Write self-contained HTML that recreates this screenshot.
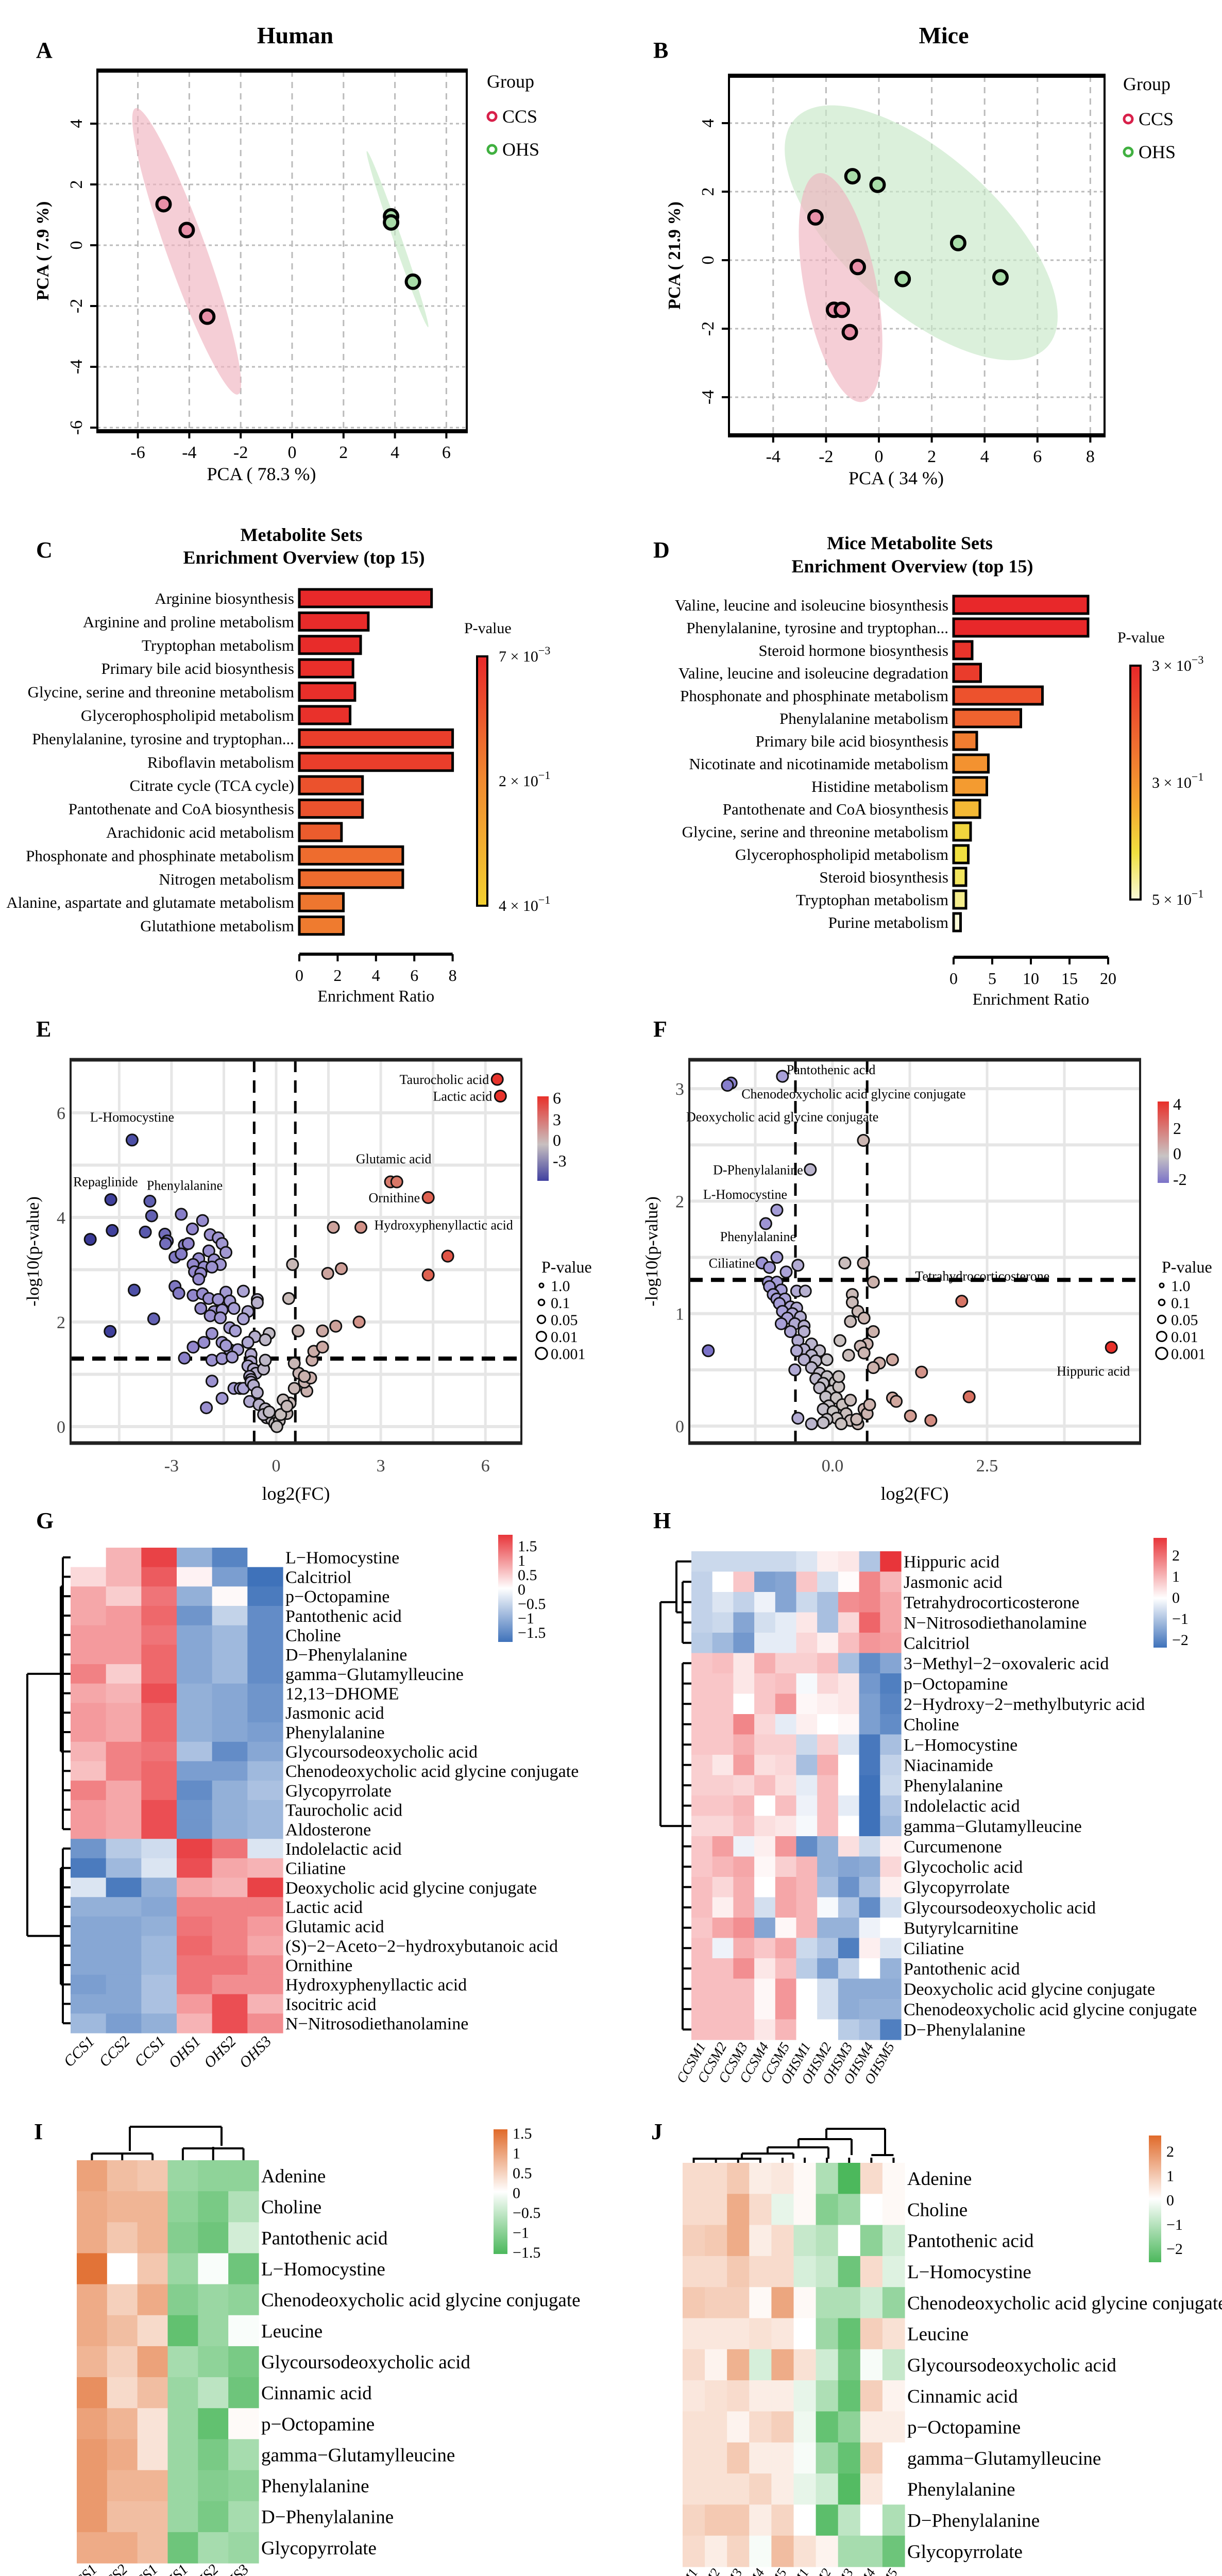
<!DOCTYPE html>
<html><head><meta charset="utf-8"><title>Metabolomics figure</title>
<style>
html,body{margin:0;padding:0;background:#fff;overflow:hidden;width:2372px;height:5092px;}
svg{display:block;font-family:"Liberation Serif","DejaVu Serif",serif;}
</style></head>
<body>
<svg id="fig" xmlns="http://www.w3.org/2000/svg" width="2372" height="5092" viewBox="0 0 2372 5092" overflow="hidden">
<defs>
<linearGradient id="gC" x1="0" y1="0" x2="0" y2="1"><stop offset="0" stop-color="#e8282a"/><stop offset="0.5" stop-color="#f08a30"/><stop offset="1" stop-color="#f2d030"/></linearGradient>
<linearGradient id="gD" x1="0" y1="0" x2="0" y2="1"><stop offset="0" stop-color="#e8282a"/><stop offset="0.35" stop-color="#f07030"/><stop offset="0.6" stop-color="#f5a830"/><stop offset="0.8" stop-color="#f0e040"/><stop offset="1" stop-color="#fafad8"/></linearGradient>
<linearGradient id="gE" x1="0" y1="0" x2="0" y2="1"><stop offset="0" stop-color="#e8302a"/><stop offset="0.57" stop-color="#c8c0c0"/><stop offset="1" stop-color="#4040a0"/></linearGradient>
<linearGradient id="gF" x1="0" y1="0" x2="0" y2="1"><stop offset="0" stop-color="#e8302a"/><stop offset="0.67" stop-color="#c8c4c4"/><stop offset="1" stop-color="#7b72c8"/></linearGradient>
<linearGradient id="gG" x1="0" y1="0" x2="0" y2="1"><stop offset="0" stop-color="#e8353a"/><stop offset="0.5" stop-color="#ffffff"/><stop offset="1" stop-color="#3f72ba"/></linearGradient>
<linearGradient id="gH" x1="0" y1="0" x2="0" y2="1"><stop offset="0" stop-color="#e8353a"/><stop offset="0.55" stop-color="#ffffff"/><stop offset="1" stop-color="#3f72ba"/></linearGradient>
<linearGradient id="gI" x1="0" y1="0" x2="0" y2="1"><stop offset="0" stop-color="#e06a2a"/><stop offset="0.5" stop-color="#ffffff"/><stop offset="1" stop-color="#4cb85c"/></linearGradient>
</defs>
<g font-size="44" font-weight="bold">
<text x="70" y="112">A</text>
<text x="1268" y="112">B</text>
<text x="70" y="1082">C</text>
<text x="1268" y="1082">D</text>
<text x="70" y="2012">E</text>
<text x="1268" y="2012">F</text>
<text x="70" y="2966">G</text>
<text x="1268" y="2966">H</text>
<text x="66" y="4152">I</text>
<text x="1264" y="4152">J</text>
</g>
<text x="573" y="84" font-size="46" font-weight="bold" text-anchor="middle">Human</text>
<text x="1832" y="84" font-size="46" font-weight="bold" text-anchor="middle">Mice</text>
<text x="585" y="1050" font-size="36" font-weight="bold" text-anchor="middle">Metabolite Sets</text>
<text x="590" y="1094" font-size="36" font-weight="bold" text-anchor="middle">Enrichment Overview (top 15)</text>
<text x="1766" y="1066" font-size="36" font-weight="bold" text-anchor="middle">Mice Metabolite Sets</text>
<text x="1771" y="1111" font-size="36" font-weight="bold" text-anchor="middle">Enrichment Overview (top 15)</text>
</svg>
<script>
const NS='http://www.w3.org/2000/svg';
const svg=document.getElementById('fig');
function mk(tag,attrs,parent){const e=document.createElementNS(NS,tag);for(const k in attrs)e.setAttribute(k,attrs[k]);(parent||svg).appendChild(e);return e;}
function tx(x,y,s,size,extra,parent){const e=mk('text',Object.assign({x:x,y:y,'font-size':size},extra||{}),parent);e.textContent=s;return e;}
function hex(c){return [parseInt(c.substr(1,2),16),parseInt(c.substr(3,2),16),parseInt(c.substr(5,2),16)];}
function ramp(stops,v){
  if(v<=stops[0][0])return stops[0][1];
  for(let i=1;i<stops.length;i++){if(v<=stops[i][0]){const a=stops[i-1],b=stops[i];const t=(v-a[0])/(b[0]-a[0]);const ca=hex(a[1]),cb=hex(b[1]);return 'rgb('+ca.map((x,j)=>Math.round(x+(cb[j]-x)*t)).join(',')+')';}}
  return stops[stops.length-1][1];
}

/* ================= PCA data ================= */
const pcaA_ccs_x=[-5.0,-4.1,-3.3];
const pcaA_ccs_y=[1.35,0.5,-2.35];
const pcaA_ohs_x=[3.85,3.85,4.7];
const pcaA_ohs_y=[0.95,0.75,-1.2];
const pcaA_xticks=[-6,-4,-2,0,2,4,6];
const pcaA_yticks=[-6,-4,-2,0,2,4];
const pcaB_ccs_x=[-2.4,-0.8,-1.7,-1.4,-1.1];
const pcaB_ccs_y=[1.25,-0.2,-1.45,-1.45,-2.1];
const pcaB_ohs_x=[-1.0,-0.05,3.0,0.9,4.6];
const pcaB_ohs_y=[2.45,2.2,0.5,-0.55,-0.5];
const pcaB_xticks=[-4,-2,0,2,4,6,8];
const pcaB_yticks=[-4,-2,0,2,4];

function pcaPanel(o){
  const g=mk('g',{});
  
  
  const sx=v=>o.x0+v*o.kx, sy=v=>o.y0-v*o.ky;
  o.xt.forEach(t=>{const l=mk('line',{x1:sx(t),x2:sx(t),y1:o.top,y2:o.bot,stroke:'#bbb','stroke-width':3,'stroke-dasharray':'12 10'},g);});
  o.yt.forEach(t=>{const l=mk('line',{x1:o.left,x2:o.right,y1:sy(t),y2:sy(t),stroke:'#bbb','stroke-width':3,'stroke-dasharray':'6 6'},g);});
  o.ells.forEach(e=>{const c=mk('ellipse',{cx:sx(e.cx),cy:sy(e.cy),rx:e.rx,ry:e.ry,fill:e.fill,'fill-opacity':0.65,transform:'rotate('+e.rot+' '+sx(e.cx)+' '+sy(e.cy)+')'},g);});
  const b=mk('rect',{x:o.left,y:o.top,width:o.right-o.left,height:o.bot-o.top,fill:'none',stroke:'#000','stroke-width':4},g);
  
  [o.top,o.bot].forEach(y=>{const l=mk('line',{x1:o.left-2,x2:o.right+2,y1:y,y2:y,stroke:'#000','stroke-width':8},g);});
  o.xt.forEach(t=>{mk('line',{x1:sx(t),x2:sx(t),y1:o.bot,y2:o.bot+14,stroke:'#000','stroke-width':4},g);const e=tx(sx(t),o.bot+52,String(t),34,{'text-anchor':'middle'},g);});
  o.yt.forEach(t=>{mk('line',{x1:o.left-14,x2:o.left,y1:sy(t),y2:sy(t),stroke:'#000','stroke-width':4},g);const e=tx(o.left-30,sy(t),String(t),34,{'text-anchor':'middle',transform:'rotate(-90 '+(o.left-30)+' '+sy(t)+')'},g);});
  o.pts.forEach(p=>{p.xs.forEach((xv,i)=>{const c=mk('circle',{cx:sx(xv),cy:sy(p.ys[i]),r:13,fill:p.fill,stroke:'#000','stroke-width':6},g);});});
  const xt=tx((o.left+o.right)/2-40,o.bot+95,o.xtitle,36,{'text-anchor':'middle'},g);
  const yx=o.left-95, yy=(o.top+o.bot)/2;
  const yt=tx(yx,yy,o.ytitle,34,{'text-anchor':'middle','font-weight':'bold',transform:'rotate(-90 '+yx+' '+yy+')'},g);
  const lg=mk('g',{},g);
  tx(o.lx,o.ly,'Group',36,{},lg);
  const c1=mk('circle',{cx:o.lx+10,cy:o.ly+56,r:8,fill:'none',stroke:'#d8204a','stroke-width':5},lg);
  tx(o.lx+30,o.ly+68,'CCS',36,{},lg);
  const c2=mk('circle',{cx:o.lx+10,cy:o.ly+120,r:8,fill:'none',stroke:'#40b040','stroke-width':5},lg);
  tx(o.lx+30,o.ly+132,'OHS',36,{},lg);
}
pcaPanel({name:'pca-human',x0:567,kx:49.9,y0:476,ky:59,left:189,right:906,top:137,bot:837,xt:pcaA_xticks,yt:pcaA_yticks,
  ells:[{name:'ellipse-ccs',cx:-4.1,cy:-0.2,rx:295,ry:38,rot:70.3,fill:'#f0b4c0'},{name:'ellipse-ohs',cx:4.1,cy:0.2,rx:181,ry:8,rot:70.8,fill:'#c4e8c4'}],
  pts:[{name:'point-ccs',xs:pcaA_ccs_x,ys:pcaA_ccs_y,fill:'#e890a8'},{name:'point-ohs',xs:pcaA_ohs_x,ys:pcaA_ohs_y,fill:'#a8dca8'}],
  xtitle:'PCA ( 78.3 %)',ytitle:'PCA ( 7.9 %)',lx:945,ly:170});
pcaPanel({name:'pca-mice',x0:1706,kx:51.3,y0:505,ky:66.5,left:1415,right:2144,top:147,bot:845,xt:pcaB_xticks,yt:pcaB_yticks,
  ells:[{name:'ellipse-ohs',cx:1.6,cy:0.8,rx:330,ry:150,rot:42,fill:'#c8e8c8'},{name:'ellipse-ccs',cx:-1.45,cy:-0.8,rx:226,ry:70,rot:79,fill:'#f0b4c0'}],
  pts:[{name:'point-ccs',xs:pcaB_ccs_x,ys:pcaB_ccs_y,fill:'#e890a8'},{name:'point-ohs',xs:pcaB_ohs_x,ys:pcaB_ohs_y,fill:'#a8dca8'}],
  xtitle:'PCA ( 34 %)',ytitle:'PCA ( 21.9 %)',lx:2180,ly:175});

/* ================= Enrichment bars ================= */
const c_pathways=['Arginine biosynthesis','Arginine and proline metabolism','Tryptophan metabolism','Primary bile acid biosynthesis','Glycine, serine and threonine metabolism','Glycerophospholipid metabolism','Phenylalanine, tyrosine and tryptophan...','Riboflavin metabolism','Citrate cycle (TCA cycle)','Pantothenate and CoA biosynthesis','Arachidonic acid metabolism','Phosphonate and phosphinate metabolism','Nitrogen metabolism','Alanine, aspartate and glutamate metabolism','Glutathione metabolism'];
const c_ratio=[6.9,3.6,3.2,2.8,2.9,2.65,8.0,8.0,3.3,3.3,2.2,5.4,5.4,2.3,2.3];
const c_pvalue=[0.008,0.012,0.015,0.02,0.02,0.025,0.05,0.05,0.09,0.09,0.11,0.14,0.14,0.16,0.17];
const c_ticks=[0,2,4,6,8];
const d_pathways=['Valine, leucine and isoleucine biosynthesis','Phenylalanine, tyrosine and tryptophan...','Steroid hormone biosynthesis','Valine, leucine and isoleucine degradation','Phosphonate and phosphinate metabolism','Phenylalanine metabolism','Primary bile acid biosynthesis','Nicotinate and nicotinamide metabolism','Histidine metabolism','Pantothenate and CoA biosynthesis','Glycine, serine and threonine metabolism','Glycerophospholipid metabolism','Steroid biosynthesis','Tryptophan metabolism','Purine metabolism'];
const d_ratio=[17.4,17.4,2.4,3.5,11.5,8.7,3.0,4.5,4.3,3.4,2.2,1.9,1.6,1.6,0.9];
const d_pvalue=[0.003,0.004,0.03,0.05,0.1,0.14,0.2,0.25,0.27,0.33,0.38,0.4,0.42,0.45,0.5];
const d_ticks=[0,5,10,15,20];

function barPanel(o){
  const g=mk('g',{});
  const sx=v=>o.x0+v*o.k;
  o.labels.forEach((lab,i)=>{
    const yc=o.y0+i*o.step;
    const r=mk('rect',{x:o.x0,y:yc-17,width:sx(o.vals[i])-o.x0,height:34,fill:o.col(o.p[i]),stroke:'#000','stroke-width':5},g);
    
    const t=tx(o.x0-10,yc+11,lab,31,{'text-anchor':'end'},g);
  });
  const ax=mk('line',{x1:sx(0),x2:sx(o.ticks[o.ticks.length-1]),y1:o.ay,y2:o.ay,stroke:'#000','stroke-width':6},g);
  o.ticks.forEach(t=>{mk('line',{x1:sx(t),x2:sx(t),y1:o.ay,y2:o.ay+14,stroke:'#000','stroke-width':4},g);const e=tx(sx(t),o.ay+52,String(t),32,{'text-anchor':'middle'},g);});
  const tt=tx((sx(0)+sx(o.ticks[o.ticks.length-1]))/2,o.ay+92,'Enrichment Ratio',32,{'text-anchor':'middle'},g);
  const cb=mk('rect',{x:o.cbx,y:o.cby1,width:20,height:o.cby2-o.cby1,fill:o.grad,stroke:'#000','stroke-width':4},g);
  const pt=tx(o.cbx-25,o.cby1-45,'P-value',30,{},g);
  o.cbl.forEach((s,i)=>{const y=o.cby1+(o.cby2-o.cby1)*i/2;const e=mk('text',{x:o.cbx+42,y:y+10,'font-size':30},g);e.textContent=s[0]+' \u00d7 10';const ts=mk('tspan',{dy:-14,'font-size':22},e);ts.textContent=s[1];});
}
barPanel({name:'enrichment-human',x0:581,k:37.2,y0:1161,step:45.4,labels:c_pathways,vals:c_ratio,p:c_pvalue,ticks:c_ticks,ay:1852,
  col:p=>ramp([[0.007,'#e8282a'],[0.2,'#f08a30'],[0.4,'#f2d030']],p),grad:'url(#gC)',cbx:926,cby1:1274,cby2:1758,cbl:[['7','\u22123'],['2','\u22121'],['4','\u22121']]});
barPanel({name:'enrichment-mice',x0:1851,k:15,y0:1174,step:44,labels:d_pathways,vals:d_ratio,p:d_pvalue,ticks:d_ticks,ay:1858,
  col:p=>ramp([[0.003,'#e8282a'],[0.17,'#f07030'],[0.3,'#f5a830'],[0.4,'#f0e040'],[0.5,'#fafad8']],p),grad:'url(#gD)',cbx:2194,cby1:1292,cby2:1746,cbl:[['3','\u22123'],['3','\u22121'],['5','\u22121']]});

/* ================= Volcano plots ================= */
const e_log2fc=[-4.74,-3.62,-3.57,-2.72,-2.11,-4.70,-5.33,-3.75,-3.19,-3.12,-3.17,-2.40,-1.89,-1.66,-1.55,-2.63,-2.52,-1.93,-1.44,-2.90,-2.72,-2.22,-1.78,-1.60,-2.38,-2.07,-2.34,-2.16,-1.84,-2.22,-4.07,-2.90,-2.79,-2.38,-2.11,-1.93,-1.44,-0.94,-1.66,-1.33,-2.16,-1.78,-1.55,-1.21,-1.89,-1.60,-0.81,-0.54,-0.54,-3.51,-4.76,-1.84,-1.33,-1.17,-0.94,-0.61,-0.20,-0.31,-2.38,-2.07,-1.55,-1.33,-1.44,-1.10,-0.81,-0.72,-2.63,-1.84,-1.55,-1.26,-0.72,-0.81,-0.65,-0.58,-0.76,-0.72,-0.36,-0.31,-1.84,-1.21,-1.03,-0.94,-0.72,-0.65,-1.55,-0.76,-2.00,-0.54,-0.49,-0.31,-0.27,-0.13,-0.04,0.09,0.02,-0.36,-0.20,
 0.31,0.40,0.52,0.88,0.81,0.99,0.65,0.52,1.03,1.08,1.33,0.63,1.33,1.71,2.38,0.36,0.47,1.48,1.87,1.64,2.43,4.36,4.92,3.28,3.46,4.36,6.34,6.43,-4.13,0.20,0.13,0.31,0.81];
const e_neglogp=[4.34,4.31,4.03,4.06,3.94,3.75,3.58,3.72,3.68,3.55,3.50,3.78,3.67,3.61,3.50,3.47,3.50,3.36,3.33,3.24,3.30,3.21,3.19,3.10,3.10,3.05,2.96,2.93,3.05,2.82,2.61,2.68,2.55,2.51,2.54,2.45,2.57,2.59,2.43,2.40,2.26,2.20,2.23,2.26,2.12,2.08,2.20,2.43,2.37,2.06,1.82,1.78,1.89,1.83,2.06,1.72,1.78,1.66,1.52,1.61,1.61,1.47,1.55,1.47,1.61,1.38,1.31,1.27,1.30,1.33,1.24,1.16,1.10,1.02,0.96,0.90,1.10,1.27,0.87,0.73,0.73,0.73,0.85,0.79,0.54,0.48,0.36,0.65,0.42,0.34,0.17,0.14,0.06,0.11,0.00,0.23,0.28,
 0.25,0.45,0.73,0.68,0.85,0.93,1.02,1.21,1.27,1.44,1.52,1.83,1.83,1.92,2.00,2.45,3.10,2.93,3.02,3.81,3.81,2.90,3.26,4.68,4.68,4.38,6.64,6.32,5.48,0.51,0.23,0.39,0.96];
const e_labels=[['Taurocholic acid',6.34,6.64,'end'],['Lactic acid',6.43,6.32,'end'],['L-Homocystine',-4.13,5.48,'mid'],['Glutamic acid',3.37,4.68,'mid'],['Ornithine',4.36,4.38,'end'],['Hydroxyphenyllactic acid',4.36,4.38,'under'],['Repaglinide',-4.74,4.34,'repa'],['Phenylalanine',-3.62,4.31,'phe']];
const e_xticks=[-3,0,3,6];
const e_yticks=[0,2,4,6];
const f_log2fc=[-0.81,-1.64,-1.70,0.50,-0.36,-0.90,-1.08,-1.14,-0.90,-0.56,-1.02,-0.75,0.20,0.50,0.66,2.09,4.51,-2.01,
 -1.04,-0.90,-1.02,-0.83,-0.58,-0.44,-0.96,-0.90,-0.77,-0.86,-0.68,-0.58,-0.81,-0.65,-0.52,-0.73,-0.83,-0.61,-0.46,-0.68,-0.46,-0.56,-0.34,-0.46,-0.21,-0.58,-0.34,-0.46,-0.27,-0.09,-0.61,-0.34,-0.21,-0.09,-0.27,-0.15,0.04,-0.21,-0.02,0.10,-0.11,0.06,-0.06,0.16,-0.15,0.01,0.22,0.07,-0.09,0.29,-0.34,-0.15,0.14,0.41,-0.56,0.39,0.29,0.10,0.12,
 0.32,0.32,0.41,0.51,0.29,0.66,0.56,0.45,0.26,0.51,0.97,0.76,0.66,1.44,2.21,0.97,1.03,0.51,0.56,1.26,1.59,0.60];
const f_neglogp=[3.11,3.05,3.03,2.54,2.28,1.92,1.80,1.45,1.50,1.43,1.41,1.37,1.45,1.45,1.28,1.11,0.70,0.67,
 1.28,1.28,1.24,1.21,1.20,1.20,1.17,1.13,1.13,1.09,1.06,1.05,1.02,1.00,0.97,0.96,0.91,0.91,0.89,0.84,0.84,0.76,0.73,0.68,0.67,0.67,0.63,0.59,0.58,0.59,0.50,0.52,0.47,0.44,0.42,0.38,0.39,0.34,0.31,0.35,0.26,0.25,0.18,0.19,0.15,0.13,0.11,0.07,0.06,0.05,0.02,0.03,0.02,0.02,0.07,0.06,0.23,0.44,0.76,
 1.17,1.10,1.02,0.96,0.93,0.84,0.73,0.71,0.63,0.65,0.59,0.56,0.52,0.48,0.26,0.25,0.22,0.15,0.11,0.09,0.05,0.19];
const f_labels=[['Pantothenic acid',-0.81,3.11,'right'],['Chenodeoxycholic acid glycine conjugate',-1.64,3.05,'rightlow'],['Deoxycholic acid glycine conjugate',-1.70,3.03,'below'],['D-Phenylalanine',-0.36,2.28,'left'],['L-Homocystine',-0.90,1.92,'leftup'],['Phenylalanine',-1.08,1.80,'leftdown'],['Ciliatine',-1.14,1.45,'left'],['Tetrahydrocorticosterone',2.09,1.11,'up'],['Hippuric acid',4.51,0.70,'down']];
const f_xticks=[0.0,2.5];
const f_yticks=[0,1,2,3];
const pv_sizes=['1.0','0.1','0.05','0.01','0.001'];

function volcano(o){
  const g=mk('g',{});
  const sx=v=>o.x0+v*o.kx, sy=v=>o.y0-v*o.ky;
  o.gx.forEach(v=>{const l=mk('line',{x1:sx(v),x2:sx(v),y1:o.top,y2:o.bot,stroke:'#e6e6e6','stroke-width':5},g);});
  o.gy.forEach(v=>{const l=mk('line',{x1:o.left,x2:o.right,y1:sy(v),y2:sy(v),stroke:'#e6e6e6','stroke-width':6},g);});
  o.fc.forEach(v=>{const l=mk('line',{x1:sx(v),x2:sx(v),y1:o.top,y2:o.bot,stroke:'#000','stroke-width':5,'stroke-dasharray':'24 16'},g);});
  const hl=mk('line',{x1:o.left,x2:o.right,y1:sy(o.pth),y2:sy(o.pth),stroke:'#000','stroke-width':8,'stroke-dasharray':'26 16'},g);
  o.xs.forEach((xv,i)=>{const c=mk('circle',{cx:sx(xv),cy:sy(o.ys[i]),r:11,fill:o.col(xv),stroke:'#111','stroke-width':3},g);});
  o.labels.forEach(L=>{const px=sx(L[1]),py=sy(L[2]);let x=px,y=py,a='middle';
    if(L[3]==='end'){x=px-16;y=py+9;a='end';}else if(L[3]==='mid'){y=py-36;}else if(L[3]==='under'){y=py+62;x=px+30;}
    else if(L[3]==='repa'){x=px-73;y=py-26;a='start';}else if(L[3]==='phe'){x=px-6;y=py-22;a='start';}
    else if(L[3]==='right'){x=px+8;y=py-4;a='start';}else if(L[3]==='rightlow'){x=px+20;y=py+30;a='start';}else if(L[3]==='below'){x=px-80;y=py+70;a='start';}
    else if(L[3]==='left'){x=px-14;y=py+9;a='end';}else if(L[3]==='leftup'){x=px+20;y=py-22;a='end';}else if(L[3]==='leftdown'){x=px-15;y=py+34;a='middle';}
    else if(L[3]==='up'){y=py-40;x=px+40;}else if(L[3]==='down'){y=py+55;x=px-35;}
    const t=tx(x,y,L[0],26,{'text-anchor':a},g);});
  const b=mk('rect',{x:o.left,y:o.top,width:o.right-o.left,height:o.bot-o.top,fill:'none',stroke:'#222','stroke-width':4},g);
  [o.top,o.bot].forEach(y=>{mk('line',{x1:o.left-2,x2:o.right+2,y1:y,y2:y,stroke:'#222','stroke-width':7},g);});
  o.xt.forEach(t=>{const e=tx(sx(t),o.bot+55,t.toFixed(o.dec),34,{'text-anchor':'middle',fill:'#444'},g);});
  o.yt.forEach(t=>{const e=tx(o.left-10,sy(t)+12,String(t),34,{'text-anchor':'end',fill:'#444'},g);});
  const xt=tx((o.left+o.right)/2,o.bot+110,'log2(FC)',36,{'text-anchor':'middle'},g);
  const yx=o.left-62,yy=(o.top+o.bot)/2;
  const yt=tx(yx,yy,'-log10(p-value)',34,{'text-anchor':'middle',transform:'rotate(-90 '+yx+' '+yy+')'},g);
  const cb=mk('rect',{x:o.cbx,y:o.cby1,width:22,height:o.cby2-o.cby1,fill:o.grad},g);
  o.cbl.forEach(s=>{const e=tx(o.cbx+30,s[1]+12,s[0],32,{},g);});
  const pv=tx(o.cbx+8,2470,'P-value',32,{},g);
  pv_sizes.forEach((s,i)=>{const y=2495+i*33;const c=mk('circle',{cx:o.cbx+8,cy:y,r:4+i*1.8,fill:'none',stroke:'#000','stroke-width':3},g);tx(o.cbx+26,y+11,s,30,{},g);});
}
volcano({name:'volcano-human',x0:536,kx:67.7,y0:2769,ky:101.5,left:137,right:1012,top:2057,bot:2801,xs:e_log2fc,ys:e_neglogp,labels:e_labels,
  gx:[-4.5,-3,-1.5,0,1.5,3,4.5,6],gy:[0,1,2,3,4,5,6],fc:[-0.63,0.55],pth:1.3,xt:e_xticks,yt:e_yticks,dec:0,
  col:v=>ramp([[-5,'#3a3a98'],[-4,'#4f52a8'],[-2.5,'#9084cc'],[-1,'#aaa2d6'],[0,'#c6c0c0'],[2,'#cf9c94'],[4,'#dd6a58'],[6.5,'#e8302a']],v),
  grad:'url(#gE)',cbx:1043,cby1:2128,cby2:2292,cbl:[['6',2130],['3',2172],['0',2212],['-3',2252]]});
volcano({name:'volcano-mice',x0:1616,kx:120,y0:2768,ky:218.3,left:1338,right:2213,top:2057,bot:2801,xs:f_log2fc,ys:f_neglogp,labels:f_labels,
  gx:[-1.25,0,1.25,2.5,3.75],gy:[0,0.5,1,1.5,2,2.5,3],fc:[-0.6,0.56],pth:1.3,xt:f_xticks,yt:f_yticks,dec:1,
  col:v=>ramp([[-2,'#7b72c8'],[-0.8,'#a8a0d8'],[0,'#c8c4c4'],[1,'#d0a8a0'],[2.2,'#d87060'],[4.5,'#e8302a']],v),
  grad:'url(#gF)',cbx:2247,cby1:2138,cby2:2296,cbl:[['4',2142],['2',2189],['0',2238],['-2',2288]]});

/* ================= Heatmaps ================= */
const g_rows=['L\u2212Homocystine','Calcitriol','p\u2212Octopamine','Pantothenic acid','Choline','D\u2212Phenylalanine','gamma\u2212Glutamylleucine','12,13\u2212DHOME','Jasmonic acid','Phenylalanine','Glycoursodeoxycholic acid','Chenodeoxycholic acid glycine conjugate','Glycopyrrolate','Taurocholic acid','Aldosterone','Indolelactic acid','Ciliatine','Deoxycholic acid glycine conjugate','Lactic acid','Glutamic acid','(S)\u22122\u2212Aceto\u22122\u2212hydroxybutanoic acid','Ornithine','Hydroxyphenyllactic acid','Isocitric acid','N\u2212Nitrosodiethanolamine'];
const g_cols=['CCS1','CCS2','CCS1','OHS1','OHS2','OHS3'];
const g_vals=[[0,0.6,1.5,-0.9,-1.4,0],[0.3,0.6,1.3,0.1,-1.1,-1.6],[0.7,0.4,1.1,-0.9,0.05,-1.5],[0.7,0.8,1.2,-1.2,-0.5,-1.3],[0.8,0.8,1.1,-1.0,-0.8,-1.3],[0.8,0.8,1.2,-1.0,-0.8,-1.3],[1.0,0.4,1.2,-1.0,-0.8,-1.3],[0.7,0.6,1.4,-0.9,-1.0,-1.2],[0.8,0.7,1.2,-0.9,-1.0,-1.2],[0.8,0.7,1.2,-0.9,-1.0,-1.1],[0.6,1.0,1.1,-0.7,-1.3,-1.0],[0.5,1.0,1.2,-1.1,-1.1,-0.8],[1.0,0.7,1.2,-1.3,-0.9,-0.7],[0.8,0.7,1.4,-1.2,-0.9,-0.8],[0.8,0.7,1.4,-1.2,-0.9,-0.8],[-1.2,-0.6,-0.4,1.5,1.1,-0.3],[-1.5,-0.8,-0.3,1.4,0.7,0.6],[-0.3,-1.5,-0.9,0.7,0.6,1.5],[-0.9,-0.9,-1.0,1.0,1.0,1.0],[-1.0,-1.0,-0.9,1.1,1.0,0.8],[-1.0,-1.0,-0.8,1.2,1.0,0.7],[-1.0,-1.0,-0.8,1.1,1.1,0.9],[-1.1,-1.0,-0.7,1.1,0.9,0.9],[-1.0,-1.0,-0.7,0.8,1.4,0.6],[-0.8,-1.1,-0.9,0.6,1.4,0.9]];
const g_ticks=['1.5','1','0.5','0','\u22120.5','\u22121','\u22121.5'];
const h_rows=['Hippuric acid','Jasmonic acid','Tetrahydrocorticosterone','N\u2212Nitrosodiethanolamine','Calcitriol','3\u2212Methyl\u22122\u2212oxovaleric acid','p\u2212Octopamine','2\u2212Hydroxy\u22122\u2212methylbutyric acid','Choline','L\u2212Homocystine','Niacinamide','Phenylalanine','Indolelactic acid','gamma\u2212Glutamylleucine','Curcumenone','Glycocholic acid','Glycopyrrolate','Glycoursodeoxycholic acid','Butyrylcarnitine','Ciliatine','Pantothenic acid','Deoxycholic acid glycine conjugate','Chenodeoxycholic acid glycine conjugate','D\u2212Phenylalanine'];
const h_cols=['CCSM1','CCSM2','CCSM3','CCSM4','CCSM5','OHSM1','OHSM2','OHSM3','OHSM4','OHSM5'];
const h_vals=[[-0.6,-0.6,-0.6,-0.6,-0.6,-0.4,0.2,0.3,-0.9,2.5],[-0.7,0,0.7,-1.5,-1.4,0.7,-0.5,0.05,1.5,0.9],[-0.7,-0.4,-0.7,-0.2,-1.4,-0.6,-1.0,1.4,1.5,1.1],[-0.7,-0.6,-1.4,-0.5,-0.3,0.3,-1.0,0.5,1.9,1.1],[-0.8,-1.1,-1.6,-0.3,-0.3,0.5,0.2,0.8,1.3,1.2],[0.7,0.8,0.3,1.0,0.6,0.6,0.8,-1.0,-1.8,-1.4],[0.7,0.7,0.3,0.7,0.8,-0.1,0.5,0.3,-1.6,-2],[0.7,0.7,0,0.7,1.3,0.1,0.2,0.3,-1.5,-1.9],[0.7,0.7,1.5,0.5,-0.3,0.2,0.0,0.1,-1.5,-1.8],[0.7,0.7,1.0,0.6,0.6,-0.6,0.6,-0.4,-2.1,-1.0],[0.6,0.3,1.2,0.4,0.5,-1.0,1.0,0,-2.1,-0.7],[0.6,0.6,0.5,0.8,0.4,-0.3,0.8,0,-2.2,-0.6],[0.7,0.7,0.9,0,0.8,-0.2,0.8,-0.3,-2.2,-0.9],[0.5,0.5,0.8,0.4,0.3,-0.1,0.8,0,-2.2,-1.1],[0.7,1.2,-0.2,0.2,1.3,-1.8,-1.2,0.4,-0.6,0.2],[0.7,0.9,1.1,0.1,0.6,0.9,-1.2,-1.4,-1.3,0.5],[0.8,0.5,1.0,0,1.1,0.9,-1.0,-1.7,-1.0,0.2],[0.8,0.2,1.0,-0.5,1.1,0.9,-0.1,-0.9,-1.8,-0.5],[0.7,1.1,1.4,-1.4,0.1,0.9,-1.2,-1.2,-0.2,0],[0.8,-0.2,1.0,0.7,1.1,-0.6,-0.9,-2.0,0.2,-0.4],[0.8,0.8,1.4,0.3,0.8,-0.8,-1.5,-0.7,0,-1.2],[0.8,0.8,0.8,0.1,1.3,0,-0.5,-1.3,-1.3,-1.3],[0.8,0.8,0.8,0.1,1.3,0,-0.5,-1.3,-1.2,-1.2],[0.8,0.8,0.8,0.3,0.9,0,0,-0.8,-1.0,-2.0]];
const h_ticks=['2','1','0','\u22121','\u22122'];
const i_rows=['Adenine','Choline','Pantothenic acid','L\u2212Homocystine','Chenodeoxycholic acid glycine conjugate','Leucine','Glycoursodeoxycholic acid','Cinnamic acid','p\u2212Octopamine','gamma\u2212Glutamylleucine','Phenylalanine','D\u2212Phenylalanine','Glycopyrrolate'];
const i_cols=['CCS1','CCS2','CCS1','OHS1','OHS2','OHS3'];
const i_vals=[[1.0,0.7,0.6,-0.9,-1.0,-1.0],[0.9,0.8,0.8,-1.0,-1.2,-0.7],[0.9,0.6,0.8,-1.1,-1.3,-0.4],[1.5,0,0.6,-0.9,-0.05,-1.3],[0.9,0.5,0.9,-1.1,-0.9,-1.0],[0.9,0.7,0.4,-1.4,-0.9,-0.05],[0.8,0.5,1.0,-0.8,-1.0,-1.2],[1.2,0.4,0.7,-0.9,-0.6,-1.3],[1.0,0.8,0.3,-0.9,-1.4,0.05],[1.1,0.9,0.3,-0.9,-1.2,-0.8],[1.1,0.8,0.8,-0.9,-1.1,-1.0],[1.1,0.7,0.7,-0.9,-1.2,-0.8],[0.9,0.9,0.7,-1.3,-0.8,-0.9]];
const i_ticks=['1.5','1','0.5','0','\u22120.5','\u22121','\u22121.5'];
const j_rows=i_rows.slice();
const j_cols=['CCSM1','CCSM2','CCSM3','CCSM4','CCSM5','OHSM1','OHSM2','OHSM3','OHSM4','OHSM5'];
const j_vals=[[0.6,0.6,0.9,0.3,0.4,0.1,-1.0,-2.2,0.6,0.1],[0.6,0.6,1.4,0.6,-0.3,0.1,-1.5,-1.2,0,0.1],[0.8,0.9,1.4,0.3,0.6,-0.7,-0.9,0,-1.4,-0.6],[0.6,0.6,0.9,0.6,0.6,-0.5,-0.7,-1.8,0.6,-0.4],[0.9,0.8,0.8,0.1,1.5,0.1,-1.0,-1.0,-0.6,-1.3],[0.4,0.4,0.4,0.5,0.4,0,-1.2,-1.9,0.8,0.5],[0.6,0.2,1.3,-0.5,1.4,0.5,-0.6,-1.7,-0.1,-0.7],[0.4,0.5,0.6,0.3,0.3,-0.3,-1.0,-1.9,0.8,0.2],[0.5,0.5,0.2,0.6,0.8,-0.2,-1.9,-1.4,0.3,0.3],[0.5,0.5,0.9,0.3,0.3,-0.1,-1.2,-1.9,0.8,0],[0.5,0.5,0.5,0.7,0.3,-0.3,-0.6,-2.1,0.4,0],[0.7,0.9,0.9,0.3,0.7,0,-2.0,-0.8,0,-1.0],[0.6,0.3,0.7,-0.1,1.1,0.5,0.2,-1.1,-1.1,-1.8]];
const j_ticks=['2','1','0','\u22121','\u22122'];

function heat(o){
  const g=mk('g',{});
  const cw=(o.right-o.left)/o.cols.length, rh=(o.bot-o.top)/o.rows.length;
  o.vals.forEach((row,r)=>{row.forEach((v,c)=>{const e=mk('rect',{x:o.left+c*cw,y:o.top+r*rh,width:cw+0.6,height:rh+0.6,fill:o.col(v)},g);});
    const t=tx(o.right+5,o.top+(r+0.5)*rh+o.fs*0.35,o.rows[r],o.fs,{},g);});
  o.cols.forEach((s,c)=>{const x=o.left+(c+0.7)*cw,y=o.bot+o.cdy;const t=tx(x,y,s,o.cfs,{'text-anchor':'end','font-style':'italic',transform:'rotate('+o.rot+' '+x+' '+y+')'},g);});
  const cb=mk('rect',{x:o.cbx,y:o.cby1,width:o.cbw,height:o.cby2-o.cby1,fill:o.grad},g);
  o.ticks.forEach((s,i)=>{const y=o.cbt1+(o.cbt2-o.cbt1)*i/(o.ticks.length-1);const t=tx(o.cbx+o.cbw+10,y+11,s,30,{},g);});
  const dp=mk('path',{d:o.dendro(cw,rh),fill:'none',stroke:'#000','stroke-width':4},g);
  return g;
}
const brw=['#3f72ba','#ffffff','#e8353a'];
heat({name:'heatmap-human-top',rows:g_rows,cols:g_cols,vals:g_vals,left:137,right:549,top:3004,bot:3946,fs:34,cfs:30,cdy:18,rot:-45,
  col:v=>ramp([[-1.6,brw[0]],[0,brw[1]],[1.6,brw[2]]],v),grad:'url(#gG)',cbx:967,cbw:28,cby1:2979,cby2:3187,cbt1:3000,cbt2:3168,ticks:g_ticks,
  dendro:(cw,rh)=>{const y=r=>3004+(r+0.5)*rh;let d='';d+='M53 '+y(6)+' V'+y(19.5)+' M53 '+y(6)+' H118 M53 '+y(19.5)+' H118';
    d+=' M118 '+y(1.5)+' V'+y(10)+' M118 '+y(1.5)+' H122 M118 '+y(10)+' H122';d+=' M118 '+y(16)+' V'+y(22)+' M118 '+y(16)+' H122 M118 '+y(22)+' H122';
    d+=' M122 '+y(0)+' V'+y(14)+' M122 '+y(15)+' V'+y(24);for(let r=0;r<25;r++)d+=' M122 '+y(r)+' H137';return d;}});
heat({name:'heatmap-mice-top',rows:h_rows,cols:h_cols,vals:h_vals,left:1342,right:1749,top:3011,bot:3959,fs:34,cfs:27,cdy:12,rot:-60,
  col:v=>ramp([[-2.2,brw[0]],[0,brw[1]],[2.5,brw[2]]],v),grad:'url(#gH)',cbx:2239,cbw:26,cby1:2985,cby2:3198,cbt1:3018,cbt2:3182,ticks:h_ticks,
  dendro:(cw,rh)=>{const y=r=>3011+(r+0.5)*rh;let d='';d+='M1282 '+y(2)+' V'+y(13)+' M1282 '+y(2)+' H1313 M1282 '+y(13)+' H1325';
    d+=' M1313 '+y(0)+' V'+y(2.5)+' M1313 '+y(0)+' H1342 M1313 '+y(2.5)+' H1325';d+=' M1325 '+y(1)+' V'+y(4)+' M1325 '+y(5)+' V'+y(23);
    for(let r=1;r<24;r++)d+=' M1325 '+y(r)+' H1342';return d;}});
const ogw=['#4cb85c','#ffffff','#e06a2a'];
heat({name:'heatmap-human-bottom',rows:i_rows,cols:i_cols,vals:i_vals,left:149,right:502,top:4193,bot:4975,fs:37,cfs:29,cdy:14,rot:-45,
  col:v=>ramp([[-1.6,ogw[0]],[0,ogw[1]],[1.6,ogw[2]]],v),grad:'url(#gI)',cbx:958,cbw:27,cby1:4133,cby2:4375,cbt1:4140,cbt2:4371,ticks:i_ticks,
  dendro:(cw,rh)=>{const x=c=>149+(c+0.5)*cw;let d='';d+='M252 4128 H430 M252 4128 V4175 M430 4128 V4165';
    d+=' M'+x(0)+' 4180 H'+x(2)+' M'+x(0)+' 4180 V4193 M'+x(1)+' 4178 V4193 M'+x(2)+' 4180 V4193';
    d+=' M'+x(3)+' 4170 H'+x(5)+' M'+x(3)+' 4170 V4193 M'+x(4)+' 4167 V4193 M'+x(5)+' 4170 V4193';return d;}});
heat({name:'heatmap-mice-bottom',rows:j_rows,cols:j_cols,vals:j_vals,left:1325,right:1756,top:4198,bot:4982,fs:37,cfs:26,cdy:10,rot:-60,
  col:v=>ramp([[-2.2,ogw[0]],[0,ogw[1]],[2.5,ogw[2]]],v),grad:'url(#gI)',cbx:2230,cbw:24,cby1:4145,cby2:4391,cbt1:4175,cbt2:4364,ticks:j_ticks,
  dendro:(cw,rh)=>{const x=c=>1325+(c+0.5)*cw;let d='';d+='M1604 4132 H1718 M1604 4132 V4152 M1718 4132 V4183';
    d+=' M1550 4152 H1653 M1550 4152 V4168 M1653 4152 V4183';d+=' M1490 4168 H1608 M1490 4168 V4180 M1608 4168 V4190';
    d+=' M1440 4180 H1540 M1440 4180 V4190 M1540 4180 V4190';d+=' M'+x(0)+' 4190 H'+x(3)+' M'+x(8)+' 4183 H'+x(9);
    for(let c=0;c<10;c++)d+=' M'+x(c)+' 4188 V4198';return d;}});
</script>
</body></html>
